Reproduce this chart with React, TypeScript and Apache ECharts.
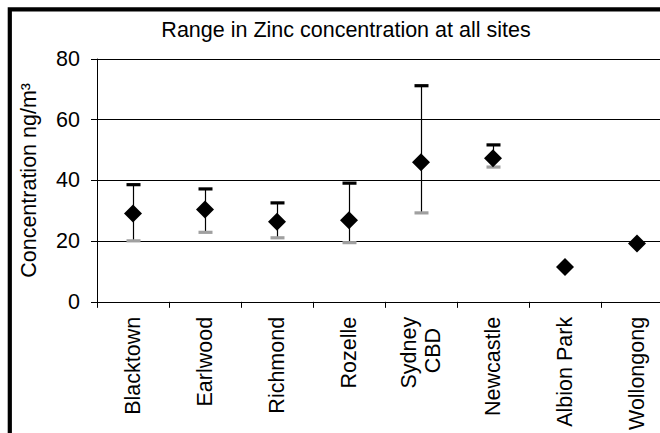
import React, { useEffect, useRef } from "react";
import * as echarts from "echarts";

const categories = ["Blacktown", "Earlwood", "Richmond", "Rozelle", "Sydney\nCBD", "Newcastle", "Albion Park", "Wollongong"];
const meanValues = [29.1, 30.4, 26.4, 26.9, 46.0, 47.3, 11.5, 19.2];
const maxValues: (number | null)[] = [38.6, 37.2, 32.6, 39.1, 71.2, 51.7, null, null];
const minValues: (number | null)[] = [20.1, 22.9, 21.1, 19.5, 29.3, 44.4, null, null];
const yTicks = { min: 0, max: 80, interval: 20 };
const titleText = "Range in Zinc concentration at all sites";
const yAxisName = "Concentration ng/m³";

const FONT = '"Liberation Sans", Arial, Helvetica, sans-serif';
const FS = 21.5;

export default function App() {
  const ref = useRef<HTMLDivElement>(null);
  useEffect(() => {
    if (!ref.current) return;
    const chart = echarts.init(ref.current, undefined, { renderer: "svg" });
    const errData: number[][] = [];
    categories.forEach((_, i) => {
      const lo = minValues[i];
      const hi = maxValues[i];
      if (lo != null && hi != null) errData.push([i, lo, hi]);
    });
    chart.setOption({
      animation: false,
      backgroundColor: "#fff",
      textStyle: { fontFamily: FONT },
      grid: { left: 97, right: 27, top: 59, bottom: 129, containLabel: false },
      graphic: [
        {
          type: "rect",
          shape: { x: 9.8, y: 9.4, width: 800, height: 600 },
          style: { fill: "none", stroke: "#000", lineWidth: 4.2 },
          silent: true,
          z: 100,
        },
        {
          type: "text",
          style: {
            text: titleText,
            x: 346,
            y: 30,
            align: "center",
            verticalAlign: "middle",
            font: `${FS}px ${FONT}`,
            fill: "#000",
          },
        },
      ],
      xAxis: {
        type: "category",
        data: categories,
        boundaryGap: true,
        axisLine: { show: true, lineStyle: { color: "#000", width: 1 } },
        axisTick: { show: true, length: 6, lineStyle: { color: "#000" } },
        axisLabel: {
          interval: 0,
          rotate: 90,
          margin: 15,
          color: "#000",
          fontSize: FS,
          fontFamily: FONT,
          lineHeight: 24,
          formatter: (v: string) => {
            if (v.indexOf("\n") >= 0) {
              const parts = v.split("\n");
              return `{a|${parts[0]}}\n{b|${parts[1]}}`;
            }
            return v;
          },
          rich: {
            a: { fontSize: FS, fontFamily: FONT, color: "#000", lineHeight: 24 },
            b: { fontSize: FS, fontFamily: FONT, color: "#000", lineHeight: 24, padding: [0, 11, 0, 0] },
          },
        },
        splitLine: { show: false },
      },
      yAxis: {
        type: "value",
        min: yTicks.min,
        max: yTicks.max,
        interval: yTicks.interval,
        name: yAxisName,
        nameLocation: "middle",
        nameRotate: 90,
        nameGap: 57,
        nameTextStyle: { color: "#000", fontSize: FS, fontFamily: FONT },
        axisLine: { show: true, lineStyle: { color: "#000", width: 1 } },
        axisTick: { show: true, length: 6, lineStyle: { color: "#000" } },
        axisLabel: { color: "#000", fontSize: FS, fontFamily: FONT, margin: 17 },
        splitLine: { show: true, lineStyle: { color: "#000", width: 1 } },
      },
      series: [
        {
          type: "custom",
          data: errData,
          z: 2,
          renderItem: (params: any, api: any) => {
            const idx = api.value(0);
            const lo = api.coord([idx, api.value(1)]);
            const hi = api.coord([idx, api.value(2)]);
            const x = Math.round(lo[0]) + 0.5;
            const half = 7;
            return {
              type: "group",
              children: [
                {
                  type: "line",
                  shape: { x1: x, y1: lo[1], x2: x, y2: hi[1] },
                  style: { stroke: "#000", lineWidth: 1.2 },
                },
                {
                  type: "rect",
                  shape: { x: x - half, y: hi[1] - 1.6, width: half * 2, height: 3.2 },
                  style: { fill: "#000" },
                },
                {
                  type: "rect",
                  shape: { x: x - half, y: lo[1] - 1.6, width: half * 2, height: 3.2 },
                  style: { fill: "#a0a0a0" },
                },
              ],
            };
          },
        },
        {
          type: "scatter",
          data: meanValues,
          symbol: "diamond",
          symbolSize: 18,
          z: 5,
          itemStyle: { color: "#000", opacity: 1 },
        },
      ],
    });
    return () => chart.dispose();
  }, []);
  return (
    <div style={{ position: "absolute", left: 0, top: 0, width: 660, height: 433, overflow: "hidden", background: "#fff" }}>
      <div ref={ref} style={{ width: 700, height: 433 }} />
    </div>
  );
}
